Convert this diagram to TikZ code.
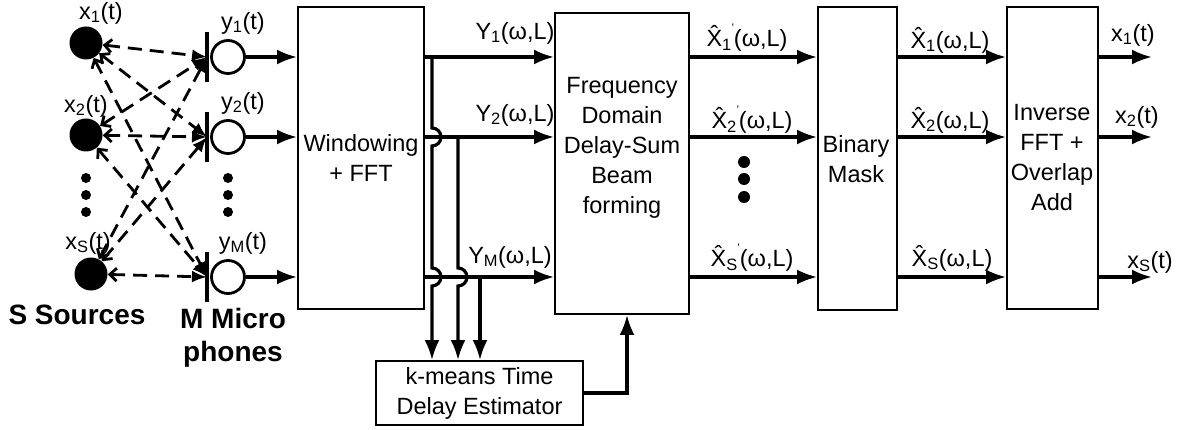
\documentclass[tikz,border=0pt]{standalone}
\usepackage{fontspec}
\setmainfont{Liberation Sans}
\usetikzlibrary{arrows.meta}
\newcommand{\pr}{\raisebox{1.2ex}{\fontsize{11}{11}\selectfont\textquotesingle}}
\begin{document}
\begin{tikzpicture}[x=1pt,y=-1pt,
  lbl/.style={inner sep=0pt, font=\fontsize{23.5}{28}\selectfont},
  bold/.style={inner sep=0pt, align=center, font=\bfseries\fontsize{28}{33}\selectfont},
  boxtxt/.style={inner sep=0pt, align=center, font=\fontsize{23.5}{30}\selectfont},
  blk/.style={draw, line width=1.8pt, inner sep=0pt},
  src/.style={circle, fill=black, minimum size=33pt, inner sep=0pt},
  mic/.style={circle, draw, line width=2.8pt, fill=white, minimum size=33pt, inner sep=0pt},
  dotn/.style={circle, fill=black, minimum size=10pt, inner sep=0pt},
  sig/.style={line width=3.2pt, -{Latex[length=20pt,width=15pt]}},
  tap/.style={line width=3.2pt},
  dsh/.style={line width=2.8pt, dash pattern=on 14pt off 8pt,
     {Straight Barb[length=7pt,width=13pt]}-{Latex[length=15pt,width=12pt]}},
  bar/.style={line width=3.2pt}]
\useasboundingbox (0,0) rectangle (1190,430);

% sources
\node[src] (s1) at (86,43) {};
\node[src] (s2) at (86,135) {};
\node[src] (sS) at (91,274) {};
\node[dotn] (sd1) at (86,178) {};
\node[dotn] (sd2) at (86,195) {};
\node[dotn] (sd3) at (86,212) {};
\node[lbl] (lx1) at (101,13) {x\textsubscript{1}(t)};
\node[lbl] (lx2) at (86,106) {x\textsubscript{2}(t)};
\node[lbl] (lxS) at (88,243) {x\textsubscript{S}(t)};
\node[bold] (lsrc) at (77,315) {S Sources};

% microphones
\coordinate (b1) at (207,57);
\coordinate (b2) at (207,137);
\coordinate (bM) at (207,277);
\draw[bar] (207,32) -- (207,82);
\draw[bar] (207,112) -- (207,162);
\draw[bar] (207,252) -- (207,302);
\node[mic] (m1) at (228,57) {};
\node[mic] (m2) at (228,137) {};
\node[mic] (mM) at (228,277) {};
\node[dotn] (md1) at (228,178) {};
\node[dotn] (md2) at (228,195) {};
\node[dotn] (md3) at (228,212) {};
\node[lbl] (ly1) at (243,23) {y\textsubscript{1}(t)};
\node[lbl] (ly2) at (243,103) {y\textsubscript{2}(t)};
\node[lbl] (lyM) at (243,243) {y\textsubscript{M}(t)};
\node[bold] (lmic) at (233,338) {M Micro\\phones};

% propagation paths
\foreach \s in {s1,s2,sS}{
  \foreach \b in {b1,b2,bM}{
    \draw[dsh] (\s) -- (\b);
  }
}

% blocks
\node[blk, minimum width=126pt, minimum height=302pt] (ww) at (361,158) {};
\node[boxtxt] (wwt) at (361,158) {Windowing\\+ FFT};
\node[blk, minimum width=134pt, minimum height=301pt] (fd) at (622,163.5) {};
\node[boxtxt] (fdt) at (622,148) {Frequency\\Domain\\Delay-Sum\\Beam\\forming};
\node[blk, minimum width=79pt, minimum height=303pt] (bm) at (857.5,158.5) {};
\node[boxtxt] (bmt) at (856,159) {Binary\\Mask};
\node[blk, minimum width=91pt, minimum height=302pt] (inv) at (1052.5,158) {};
\node[boxtxt] (invt) at (1052,158) {Inverse\\FFT +\\Overlap\\Add};
\node[blk, minimum width=207pt, minimum height=64pt] (km) at (479.5,393) {};
\node[boxtxt] (kmt) at (479.5,393) {k-means Time\\Delay Estimator};

% mic to windowing
\draw[sig] (m1) -- (ww.west |- m1);
\draw[sig] (m2) -- (ww.west |- m2);
\draw[sig] (mM) -- (ww.west |- mM);

% Y outputs
\draw[sig] (ww.east |- m1) -- (fd.west |- m1);
\draw[sig] (ww.east |- m2) -- (fd.west |- m2);
\draw[sig] (ww.east |- mM) -- (fd.west |- mM);
\node[lbl] (lY1) at (515,33) {Y\textsubscript{1}(ω,L)};
\node[lbl] (lY2) at (515,115) {Y\textsubscript{2}(ω,L)};
\node[lbl] (lYM) at (510,257) {Y\textsubscript{M}(ω,L)};

% taps to k-means
\coordinate (t1) at (432,57);
\coordinate (t2) at (458,137);
\coordinate (t3) at (480,277);
\draw[tap, -{Latex[length=20pt,width=15pt]}] (t1) -- (432,128) arc[start angle=90,end angle=-90,radius=9pt]
   -- (432,268) arc[start angle=90,end angle=-90,radius=9pt] -- (t1 |- km.north);
\draw[tap, -{Latex[length=20pt,width=15pt]}] (t2) -- (458,268) arc[start angle=90,end angle=-90,radius=9pt]
   -- (t2 |- km.north);
\draw[tap, -{Latex[length=20pt,width=15pt]}] (t3) -- (t3 |- km.north);

% k-means to beamformer
\coordinate (c1) at (627,393);
\draw[sig] (km.east) -- (c1) -- (c1 |- fd.south);

% beamformer outputs
\draw[sig] (fd.east |- m1) -- (bm.west |- m1);
\draw[sig] (fd.east |- m2) -- (bm.west |- m2);
\draw[sig] (fd.east |- mM) -- (bm.west |- mM);
\node[lbl] (lXp1) at (747,38) {\^{X}\textsubscript{1}\pr(ω,L)};
\node[lbl] (lXp2) at (752,120) {\^{X}\textsubscript{2}\pr(ω,L)};
\node[lbl] (lXpS) at (752,258) {\^{X}\textsubscript{S}\pr(ω,L)};
\node[dotn, minimum size=12pt] (xd1) at (744,162) {};
\node[dotn, minimum size=12pt] (xd2) at (744,179) {};
\node[dotn, minimum size=12pt] (xd3) at (744,197) {};

% mask outputs
\draw[sig] (bm.east |- m1) -- (inv.west |- m1);
\draw[sig] (bm.east |- m2) -- (inv.west |- m2);
\draw[sig] (bm.east |- mM) -- (inv.west |- mM);
\node[lbl] (lX1) at (950,40) {\^{X}\textsubscript{1}(ω,L)};
\node[lbl] (lX2) at (950,120) {\^{X}\textsubscript{2}(ω,L)};
\node[lbl] (lXS) at (952,258) {\^{X}\textsubscript{S}(ω,L)};

% final outputs
\coordinate (o1) at (1152,57);
\coordinate (o2) at (1152,137);
\coordinate (oS) at (1152,277);
\draw[sig] (inv.east |- o1) -- (o1);
\draw[sig] (inv.east |- o2) -- (o2);
\draw[sig] (inv.east |- oS) -- (oS);
\node[lbl] (lo1) at (1133,35) {x\textsubscript{1}(t)};
\node[lbl] (lo2) at (1137,117) {x\textsubscript{2}(t)};
\node[lbl] (loS) at (1150,262) {x\textsubscript{S}(t)};
\end{tikzpicture}
\end{document}
